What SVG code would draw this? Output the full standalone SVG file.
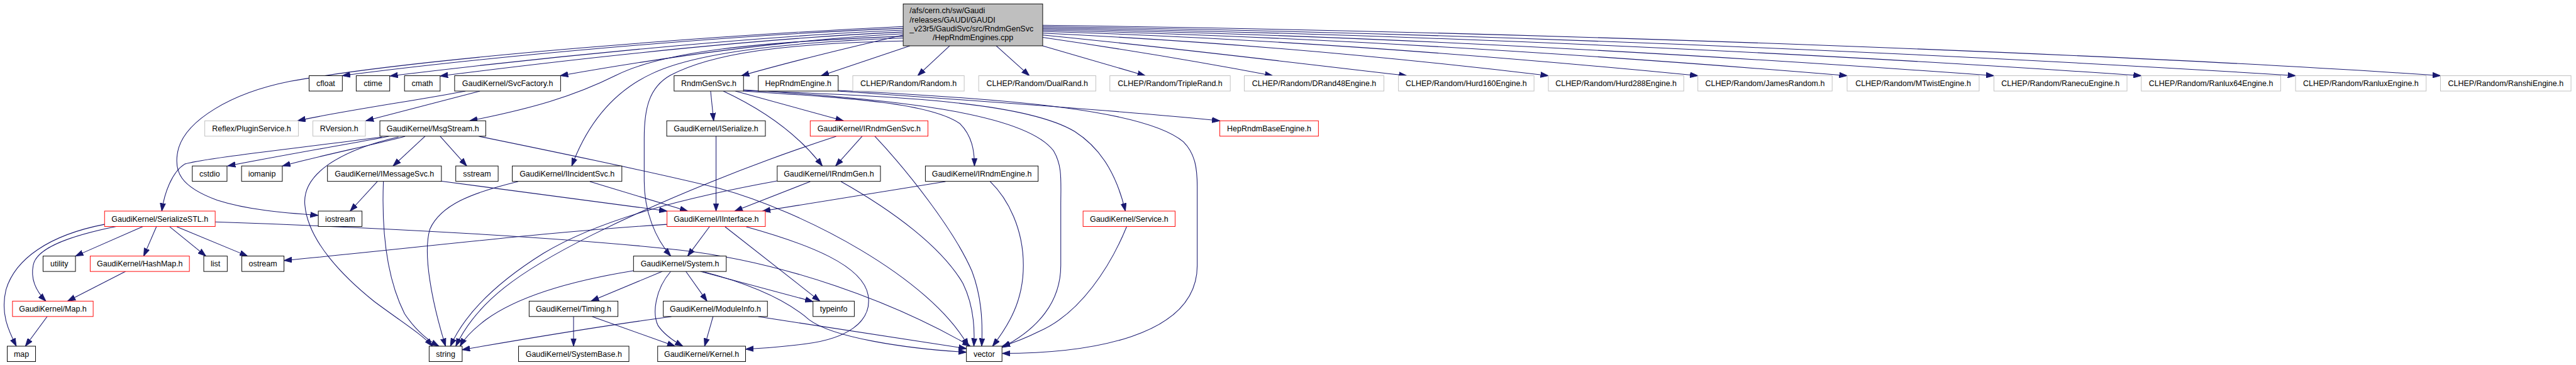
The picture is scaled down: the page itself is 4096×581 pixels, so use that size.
<svg xmlns="http://www.w3.org/2000/svg" width="4096" height="581" viewBox="0 0 4096 581">
<defs>
<style>
.n rect{fill:#fff;stroke:#000;stroke-width:1}
.g rect{fill:#fff;stroke:#bfbfbf;stroke-width:1}
.r rect{fill:#fff;stroke:#ff0000;stroke-width:1}
.t rect{fill:#bfbfbf;stroke:#000;stroke-width:1}
text{font-family:"Liberation Sans",Arial,Helvetica,sans-serif;font-size:13px;fill:#000;text-anchor:middle}
.t text.l{text-anchor:start}
#edges path{fill:none;stroke:#191970;stroke-width:1.1;marker-end:url(#arr)}
</style>
<marker id="arr" markerUnits="userSpaceOnUse" viewBox="0 0 14 10" markerWidth="14" markerHeight="10" refX="13" refY="5" orient="auto">
<path d="M0,0.5 L13,5 L0,9.5 z" fill="#191970" stroke="#191970" stroke-width="1"/>
</marker>
</defs>
<rect x="0" y="0" width="4096" height="581" fill="#fff"/>
<g transform="scale(0.96)">
<g id="edges">
<path d="M1496,44 C1200,58 700,95 480,135 C380,155 310,200 296,245 C285,285 300,310 360,332 C410,348 470,353 527,357"/>
<path d="M1496,47 C1200,58 800,95 567,125.5"/>
<path d="M1496,50 C1250,60 900,95 646,126"/>
<path d="M1496,53 C1250,64 950,98 729,126"/>
<path d="M1496,56 C1300,66 1100,95 928,125.5"/>
<path d="M1496,60 C1250,70 1100,85 1020,125 C950,160 880,180 778,200.3"/>
<path d="M1496,63 C1300,70 1150,88 1080,122 C1020,150 975,200 947,275.2"/>
<path d="M1496,68 C1300,72 1180,88 1110,125 C1075,145 1067,180 1067,230 L1067,300 C1067,350 1085,395 1111,424.6"/>
<path d="M1496,58 C1400,80 1300,105 1228,125.5"/>
<path d="M1507,76 L1360,125.5"/>
<path d="M1573,76 L1520,125.5"/>
<path d="M1650,76 L1705,125.5"/>
<path d="M1727,76 L1897,125.5"/>
<path d="M1727,62 C1850,80 2000,105 2108,125.5"/>
<path d="M1727,58 C1950,80 2150,105 2330,125.5"/>
<path d="M1727,55 C2050,70 2350,100 2564.6,125.5"/>
<path d="M1727,52 C2150,65 2550,100 2812.2,125.5"/>
<path d="M1727,50 C2250,62 2750,100 3059.4,125.5"/>
<path d="M1727,48 C2350,60 2950,100 3302.6,125.5"/>
<path d="M1727,46 C2450,58 3150,98 3546.7,125.5"/>
<path d="M1727,44 C2550,56 3350,97 3802.2,125.5"/>
<path d="M1727,42 C2650,54 3600,95 4042.2,125.5"/>
<path d="M1177,151 L1182,200.3"/>
<path d="M1218,151 L1397,200.3"/>
<path d="M1198,151 C1260,180 1320,220 1362,275.2"/>
<path d="M1231,151 C1400,162 1540,170 1590,205 C1610,225 1614,250 1614,275.2"/>
<path d="M1231,150 C1500,160 1700,170 1780,218 C1830,250 1852,300 1864,350"/>
<path d="M1231,149 C1500,165 1700,190 1745,250 C1760,275 1757,300 1757,340 L1757,440 C1757,500 1720,545 1660,576"/>
<path d="M1388,151 C1600,166 1850,183 2020.4,200.3"/>
<path d="M1388,150 C1700,165 1900,185 1960,235 C1980,255 1983,280 1983,310 L1983,440 C1983,560 1800,586 1660,586"/>
<path d="M1428,226 L1384,275.2"/>
<path d="M1385,226 C1250,270 1100,330 980,390 C860,450 790,500 755,574"/>
<path d="M1449,226 C1500,280 1580,380 1610,450 C1625,490 1628,530 1626,574"/>
<path d="M1342,301 L1217,350"/>
<path d="M1287,300 C1150,325 1000,360 900,420 C820,470 770,520 746,574"/>
<path d="M1393,301 C1480,350 1560,410 1595,470 C1612,505 1615,540 1613,574"/>
<path d="M1566,301 L1263,350"/>
<path d="M1640,301 C1670,330 1695,380 1695,440 C1695,500 1670,540 1644,574"/>
<path d="M704,226 L651,275.2"/>
<path d="M729,226 L773,275.2"/>
<path d="M644,226 C600,235 480,255 377,275.2"/>
<path d="M671,226 C620,240 530,258 468,275.2"/>
<path d="M633,227 C500,245 340,262 306,272 C285,285 272,320 268,350"/>
<path d="M660,227 C560,250 500,290 505,340 C510,400 570,460 620,500 C660,530 700,555 716,574"/>
<path d="M793,226 C950,258 1080,285 1190,312 C1330,350 1540,460 1604,574"/>
<path d="M625,301 L580,350"/>
<path d="M635,301 C632,380 640,460 670,520 C690,550 710,565 727,574"/>
<path d="M728,300 L1104.8,350"/>
<path d="M858,301 C780,320 730,340 712,380 C700,420 715,500 738,574"/>
<path d="M977,301 L1139,350"/>
<path d="M771,151 C700,165 560,185 493,200.3"/>
<path d="M795,151 L606,200.3"/>
<path d="M173,372 C80,390 25,430 10,480 C0,520 15,550 27,574"/>
<path d="M195,375 C120,390 60,410 55,440 C50,465 62,485 76,499.3"/>
<path d="M238,375 L125,424.6"/>
<path d="M259,376 L238,424.6"/>
<path d="M281,376 L341,424.6"/>
<path d="M293,376 L410,424.6"/>
<path d="M356,368 C650,378 950,395 1130,415 C1300,435 1480,500 1607,574"/>
<path d="M208,450 L112,499.3"/>
<path d="M78,525 L42,574"/>
<path d="M1105,372 C900,385 700,410 470.4,432"/>
<path d="M1175,376 L1139,424.6"/>
<path d="M1201,376 L1358,499.3"/>
<path d="M1236,376 C1340,405 1430,440 1438,490 C1445,535 1400,562 1335,570 C1300,575 1270,577 1235,579"/>
<path d="M1186,226 L1186,350"/>
<path d="M1049,449 C950,465 860,490 805,530 C785,545 770,560 762,574"/>
<path d="M1097,450 L979,499.3"/>
<path d="M1111,450 C1085,480 1080,520 1090,540 C1100,555 1115,565 1131,574"/>
<path d="M1136,450 L1171,499.3"/>
<path d="M1160,450 L1346.6,500"/>
<path d="M1163,450 C1240,470 1300,495 1340,530 C1380,560 1500,578 1600.7,584"/>
<path d="M950,525 L950,574"/>
<path d="M981,525 L1118,574"/>
<path d="M1112,525 C1000,540 880,560 765.5,580"/>
<path d="M1181,525 L1167,574"/>
<path d="M1256,525 L1600.7,578"/>
<path d="M1866,376 C1840,440 1790,520 1720,550 C1700,560 1680,568 1660,574"/>
</g>
<g id="n_top" class="t"><rect x="1496" y="6.5" width="231" height="69.5"/>
<text class="l" x="1506.6" y="22.3">/afs/cern.ch/sw/Gaudi</text>
<text class="l" x="1506.6" y="37">/releases/GAUDI/GAUDI</text>
<text class="l" x="1506.6" y="51.7">_v23r5/GaudiSvc/src/RndmGenSvc</text>
<text x="1611.5" y="66.4">/HepRndmEngines.cpp</text></g>
<g id="n_cfloat" class="n"><rect x="512" y="125.5" width="55" height="25.5"/><text x="539.5" y="142.8">cfloat</text></g>
<g id="n_ctime" class="n"><rect x="590" y="125.5" width="55.5" height="25.5"/><text x="617.75" y="142.8">ctime</text></g>
<g id="n_cmath" class="n"><rect x="670" y="125.5" width="59" height="25.5"/><text x="699.5" y="142.8">cmath</text></g>
<g id="n_svcfactory" class="n"><rect x="753" y="125.5" width="175.5" height="25.5"/><text x="840.75" y="142.8">GaudiKernel/SvcFactory.h</text></g>
<g id="n_rndmgensvc" class="n"><rect x="1116.5" y="125.5" width="115" height="25.5"/><text x="1174" y="142.8">RndmGenSvc.h</text></g>
<g id="n_heprndmengine" class="n"><rect x="1256" y="125.5" width="132.3" height="25.5"/><text x="1322.15" y="142.8">HepRndmEngine.h</text></g>
<g id="n_random" class="g"><rect x="1412.5" y="125.5" width="184.5" height="25.5"/><text x="1504.75" y="142.8">CLHEP/Random/Random.h</text></g>
<g id="n_dualrand" class="g"><rect x="1621" y="125.5" width="194" height="25.5"/><text x="1718" y="142.8">CLHEP/Random/DualRand.h</text></g>
<g id="n_triplerand" class="g"><rect x="1838.3" y="125.5" width="199.4" height="25.5"/><text x="1938" y="142.8">CLHEP/Random/TripleRand.h</text></g>
<g id="n_drand48" class="g"><rect x="2061" y="125.5" width="231.2" height="25.5"/><text x="2176.6" y="142.8">CLHEP/Random/DRand48Engine.h</text></g>
<g id="n_hurd160" class="g"><rect x="2316.3" y="125.5" width="224.5" height="25.5"/><text x="2428.55" y="142.8">CLHEP/Random/Hurd160Engine.h</text></g>
<g id="n_hurd288" class="g"><rect x="2564.6" y="125.5" width="224.2" height="25.5"/><text x="2676.7" y="142.8">CLHEP/Random/Hurd288Engine.h</text></g>
<g id="n_james" class="g"><rect x="2812.2" y="125.5" width="222.4" height="25.5"/><text x="2923.4" y="142.8">CLHEP/Random/JamesRandom.h</text></g>
<g id="n_mtwist" class="g"><rect x="3059.4" y="125.5" width="218.7" height="25.5"/><text x="3168.75" y="142.8">CLHEP/Random/MTwistEngine.h</text></g>
<g id="n_ranecu" class="g"><rect x="3302.6" y="125.5" width="220.4" height="25.5"/><text x="3412.8" y="142.8">CLHEP/Random/RanecuEngine.h</text></g>
<g id="n_ranlux64" class="g"><rect x="3546.7" y="125.5" width="230.8" height="25.5"/><text x="3662.1" y="142.8">CLHEP/Random/Ranlux64Engine.h</text></g>
<g id="n_ranlux" class="g"><rect x="3802.2" y="125.5" width="216.3" height="25.5"/><text x="3910.35" y="142.8">CLHEP/Random/RanluxEngine.h</text></g>
<g id="n_ranshi" class="g"><rect x="4042.2" y="125.5" width="216.2" height="25.5"/><text x="4150.3" y="142.8">CLHEP/Random/RanshiEngine.h</text></g>
<g id="n_pluginservice" class="g"><rect x="339.2" y="200.3" width="155" height="25.5"/><text x="416.7" y="217.6">Reflex/PluginService.h</text></g>
<g id="n_rversion" class="g"><rect x="518.2" y="200.3" width="87" height="25.5"/><text x="561.7" y="217.6">RVersion.h</text></g>
<g id="n_msgstream" class="n"><rect x="629.2" y="200.3" width="175.3" height="25.5"/><text x="716.85" y="217.6">GaudiKernel/MsgStream.h</text></g>
<g id="n_iserialize" class="n"><rect x="1104.3" y="200.3" width="163.4" height="25.5"/><text x="1186" y="217.6">GaudiKernel/ISerialize.h</text></g>
<g id="n_irndmgensvc" class="r"><rect x="1342" y="200.3" width="195" height="25.5"/><text x="1439.5" y="217.6">GaudiKernel/IRndmGenSvc.h</text></g>
<g id="n_heprndmbaseengine" class="r"><rect x="2020.4" y="200.3" width="163.3" height="25.5"/><text x="2102.05" y="217.6">HepRndmBaseEngine.h</text></g>
<g id="n_cstdio" class="n"><rect x="318.5" y="275.2" width="57.5" height="25.5"/><text x="347.25" y="292.5">cstdio</text></g>
<g id="n_iomanip" class="n"><rect x="400.1" y="275.2" width="67.5" height="25.5"/><text x="433.85" y="292.5">iomanip</text></g>
<g id="n_imessagesvc" class="n"><rect x="542.4" y="275.2" width="188.7" height="25.5"/><text x="636.75" y="292.5">GaudiKernel/IMessageSvc.h</text></g>
<g id="n_sstream" class="n"><rect x="754.9" y="275.2" width="70.2" height="25.5"/><text x="790" y="292.5">sstream</text></g>
<g id="n_iincidentsvc" class="n"><rect x="848.5" y="275.2" width="181.5" height="25.5"/><text x="939.25" y="292.5">GaudiKernel/IIncidentSvc.h</text></g>
<g id="n_irndmgen" class="n"><rect x="1287.3" y="275.2" width="171" height="25.5"/><text x="1372.8" y="292.5">GaudiKernel/IRndmGen.h</text></g>
<g id="n_irndmengine" class="n"><rect x="1532.7" y="275.2" width="186.8" height="25.5"/><text x="1626.1" y="292.5">GaudiKernel/IRndmEngine.h</text></g>
<g id="n_serializestl" class="r"><rect x="173.2" y="350" width="183.2" height="25.5"/><text x="264.8" y="367.3">GaudiKernel/SerializeSTL.h</text></g>
<g id="n_iostream" class="n"><rect x="527.2" y="350" width="72.4" height="25.5"/><text x="563.4" y="367.3">iostream</text></g>
<g id="n_iinterface" class="r"><rect x="1104.8" y="350" width="162.8" height="25.5"/><text x="1186.2" y="367.3">GaudiKernel/IInterface.h</text></g>
<g id="n_service" class="r"><rect x="1793.9" y="350" width="152.5" height="25.5"/><text x="1870.15" y="367.3">GaudiKernel/Service.h</text></g>
<g id="n_utility" class="n"><rect x="71.3" y="424.6" width="53.7" height="25.5"/><text x="98.15" y="441.9">utility</text></g>
<g id="n_hashmap" class="r"><rect x="149.4" y="424.6" width="164.3" height="25.5"/><text x="231.55" y="441.9">GaudiKernel/HashMap.h</text></g>
<g id="n_list" class="n"><rect x="337.5" y="424.6" width="38.9" height="25.5"/><text x="356.95" y="441.9">list</text></g>
<g id="n_ostream" class="n"><rect x="400.5" y="424.6" width="69.9" height="25.5"/><text x="435.45" y="441.9">ostream</text></g>
<g id="n_system" class="n"><rect x="1049.3" y="424.6" width="153.6" height="25.5"/><text x="1126.1" y="441.9">GaudiKernel/System.h</text></g>
<g id="n_maph" class="r"><rect x="20.7" y="499.3" width="133.6" height="25.5"/><text x="87.5" y="516.6">GaudiKernel/Map.h</text></g>
<g id="n_timing" class="n"><rect x="876.4" y="499.3" width="147.1" height="25.5"/><text x="949.95" y="516.6">GaudiKernel/Timing.h</text></g>
<g id="n_moduleinfo" class="n"><rect x="1098.6" y="499.3" width="172.5" height="25.5"/><text x="1184.85" y="516.6">GaudiKernel/ModuleInfo.h</text></g>
<g id="n_typeinfo" class="n"><rect x="1346.6" y="499.3" width="68.4" height="25.5"/><text x="1380.8" y="516.6">typeinfo</text></g>
<g id="n_map" class="n"><rect x="12" y="574" width="46.9" height="25.5"/><text x="35.45" y="591.3">map</text></g>
<g id="n_string" class="n"><rect x="710.8" y="574" width="54.7" height="25.5"/><text x="738.15" y="591.3">string</text></g>
<g id="n_systembase" class="n"><rect x="858.9" y="574" width="182.8" height="25.5"/><text x="950.3" y="591.3">GaudiKernel/SystemBase.h</text></g>
<g id="n_kernel" class="n"><rect x="1089.3" y="574" width="145.6" height="25.5"/><text x="1162.1" y="591.3">GaudiKernel/Kernel.h</text></g>
<g id="n_vector" class="n"><rect x="1600.7" y="574" width="58.9" height="25.5"/><text x="1630.15" y="591.3">vector</text></g>
</g>
</svg>
